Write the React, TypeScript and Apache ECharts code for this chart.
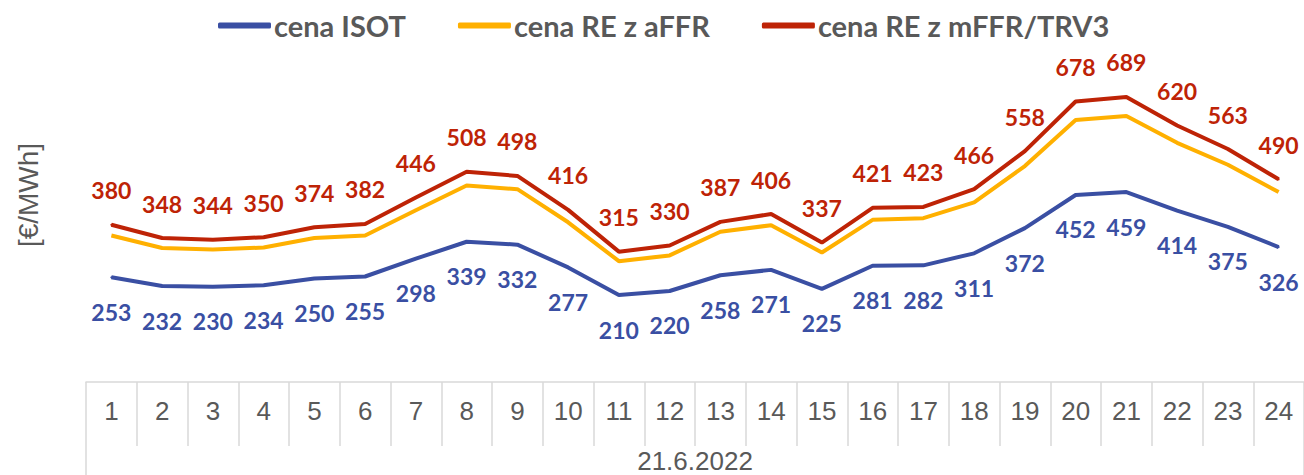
import React, { useEffect, useRef } from "react";
import * as echarts from "echarts";

const hours = ["1","2","3","4","5","6","7","8","9","10","11","12","13","14","15","16","17","18","19","20","21","22","23","24"];
const dayLabel = ["21.6.2022"];
const isot = [253,232,230,234,250,255,298,339,332,277,210,220,258,271,225,281,282,311,372,452,459,414,375,326];
const reAffr = [354,324,320,325,348,354,415,475,466,386,292,306,363,379,313,392,396,434,522,633,643,578,525,459];
const reMffr = [380,348,344,350,374,382,446,508,498,416,315,330,387,406,337,421,423,466,558,678,689,620,563,490];
const seriesNames = ["cena ISOT", "cena RE z aFFR", "cena RE z mFFR/TRV3"];
const colors = ["#3A4FA3", "#FFB000", "#BE2306"];
const yName = "[€/MWh]";

export default function App() {
  const ref = useRef<HTMLDivElement>(null);
  useEffect(() => {
    document.body.style.margin = "0";
    const chart = echarts.init(ref.current!, undefined, { renderer: "svg" });
    const labelFont = "Lato, Calibri, 'Open Sans', sans-serif";
    const axisFont = "'Liberation Sans', Arial, sans-serif";
    chart.setOption({
      animation: false,
      legend: {
        top: 6,
        left: 213,
        icon: "roundRect",
        itemWidth: 53,
        itemHeight: 6,
        itemGap: 52,
        textStyle: { fontFamily: labelFont, fontWeight: "bold", fontSize: 29, color: "#595959", padding: [0, 0, 0, -2] },
        data: seriesNames,
      },
      graphic: [
        {
          type: "text",
          x: 28,
          y: 195,
          rotation: Math.PI / 2,
          style: {
            text: yName,
            fontFamily: axisFont,
            fontSize: 28,
            fill: "#595959",
            align: "center",
            verticalAlign: "middle",
          },
        },
      ],
      grid: { left: 86, top: 51, width: 1224, height: 331 },
      xAxis: [
        {
          type: "category",
          data: hours,
          boundaryGap: true,
          axisLine: { show: true, lineStyle: { color: "#D9D9D9", width: 1.5 } },
          axisTick: { show: true, interval: 0, length: 64, lineStyle: { color: "#D9D9D9", width: 1.5 } },
          axisLabel: {
            interval: 0,
            margin: 16,
            fontSize: 26,
            color: "#595959",
            fontFamily: axisFont,
          },
        },
        {
          type: "category",
          data: dayLabel,
          position: "bottom",
          offset: 64,
          boundaryGap: true,
          axisLine: { show: false },
          axisTick: { show: true, length: 40, lineStyle: { color: "#D9D9D9", width: 1.5 } },
          axisLabel: {
            margin: 2,
            fontSize: 26,
            color: "#595959",
            fontFamily: axisFont,
          },
        },
      ],
      yAxis: {
        type: "value",
        min: 0,
        max: 800,
        show: false,
        splitLine: { show: false },
      },
      series: [
        {
          name: seriesNames[0],
          type: "line",
          data: isot,
          symbol: "circle",
          symbolSize: 2,
          lineStyle: { color: colors[0], width: 4 },
          itemStyle: { color: colors[0] },
          label: {
            show: true,
            position: "bottom",
            distance: 22,
            color: colors[0],
            fontFamily: labelFont,
            fontWeight: "bold",
            fontSize: 23,
          },
        },
        {
          name: seriesNames[1],
          type: "line",
          data: reAffr,
          symbol: "none",
          lineStyle: { color: colors[1], width: 4 },
          itemStyle: { color: colors[1] },
        },
        {
          name: seriesNames[2],
          type: "line",
          data: reMffr,
          symbol: "circle",
          symbolSize: 2,
          lineStyle: { color: colors[2], width: 4 },
          itemStyle: { color: colors[2] },
          label: {
            show: true,
            position: "top",
            distance: 22,
            color: colors[2],
            fontFamily: labelFont,
            fontWeight: "bold",
            fontSize: 23,
          },
        },
      ],
    });
    return () => chart.dispose();
  }, []);
  return <div ref={ref} style={{ width: 1304, height: 475 }} />;
}
